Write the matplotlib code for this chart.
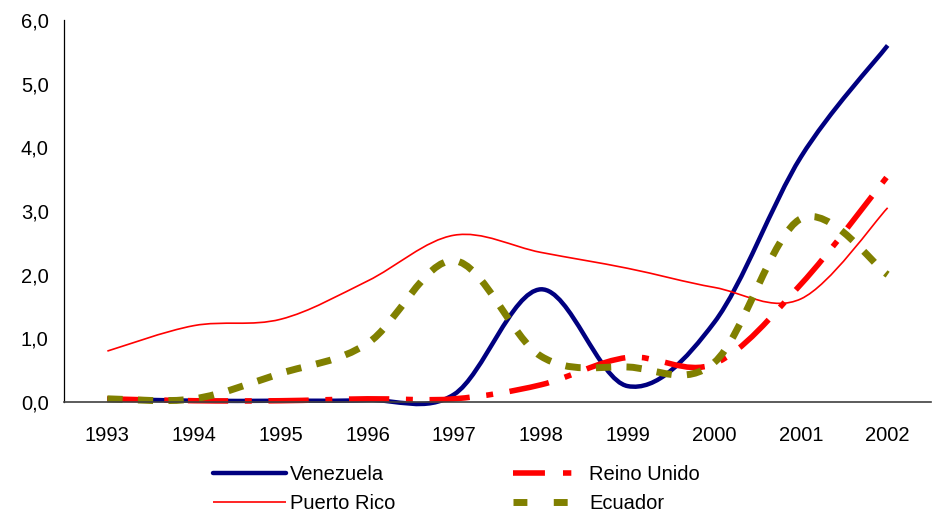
import matplotlib
matplotlib.use("Agg")
import numpy as np
import matplotlib.pyplot as plt
from matplotlib.path import Path
from matplotlib.patches import PathPatch
from matplotlib.lines import Line2D

plt.rcParams['font.family'] = ['Liberation Sans', 'DejaVu Sans']
plt.rcParams['lines.scale_dashes'] = False

# --- data ---
years = ["1993", "1994", "1995", "1996", "1997", "1998", "1999", "2000", "2001", "2002"]
venezuela = [0.05, 0.02, 0.02, 0.03, 0.12, 1.77, 0.25, 1.25, 3.85, 5.60]
reino_unido = [0.05, 0.02, 0.02, 0.05, 0.05, 0.27, 0.70, 0.60, 1.85, 3.55]
puerto_rico = [0.80, 1.20, 1.30, 1.90, 2.62, 2.35, 2.10, 1.80, 1.62, 3.05]
ecuador = [0.05, 0.05, 0.45, 0.92, 2.22, 0.72, 0.55, 0.62, 2.88, 2.00]

FS = 14.5


def smooth_path(xs, ys):
    # Excel-style smoothed line: cubic Bezier through every point
    pts = np.column_stack([xs, ys]).astype(float)
    n = len(pts)
    verts = [pts[0]]
    codes = [Path.MOVETO]
    for i in range(n - 1):
        p0 = pts[max(i - 1, 0)]
        p1 = pts[i]
        p2 = pts[i + 1]
        p3 = pts[min(i + 2, n - 1)]
        c1 = p1 + (p2 - p0) / 6.0
        c2 = p2 - (p3 - p1) / 6.0
        verts += [c1, c2, p2]
        codes += [Path.CURVE4] * 3
    return Path(verts, codes)


series = [
    ("Venezuela", venezuela, dict(color="#000080", lw=3.2, ls="-")),
    ("Reino Unido", reino_unido, dict(color="#FF0000", lw=4.0, ls=(0, (29, 12, 5, 12)))),
    ("Puerto Rico", puerto_rico, dict(color="#FF0000", lw=1.2, ls="-")),
    ("Ecuador", ecuador, dict(color="#808000", lw=5.0, ls=(0, (11, 11)))),
]
legend_styles = {
    "Reino Unido": (0, (23, 13, 6, 13)),
    "Ecuador": (0, (10, 19)),
}

fig = plt.figure(figsize=(9.32, 5.14), dpi=100)
ax = fig.add_axes([64 / 932, 1 - 402 / 514, (931 - 64) / 932, (402 - 20) / 514])

x = np.arange(len(years))
handles = {}
for name, vals, st in series:
    patch = PathPatch(smooth_path(x, vals), facecolor="none", edgecolor=st["color"],
                      linewidth=st["lw"], linestyle=st["ls"], capstyle="butt",
                      joinstyle="round", clip_on=False)
    ax.add_patch(patch)
    handles[name] = Line2D([], [], color=st["color"], lw=st["lw"],
                           ls=legend_styles.get(name, st["ls"]),
                           solid_capstyle="round" if name == "Venezuela" else "butt",
                           dash_capstyle="butt")

ax.set_xlim(-0.5, len(years) - 0.5)
ax.set_ylim(0, 6)
ax.set_xticks(x)
ax.set_xticklabels(years)
ax.set_yticks(np.arange(0, 7, 1))
ax.set_yticklabels([f"{v:.1f}".replace(".", ",") for v in np.arange(0, 7, 1)])
ax.tick_params(axis="both", length=0, labelsize=FS)
ax.tick_params(axis="y", pad=11)
ax.tick_params(axis="x", pad=17)
for s in ["top", "right"]:
    ax.spines[s].set_visible(False)
ax.spines["left"].set_color("black")
ax.spines["left"].set_linewidth(0.9)
ax.spines["bottom"].set_color("#404040")
ax.spines["bottom"].set_linewidth(1.2)

order = ["Venezuela", "Puerto Rico", "Reino Unido", "Ecuador"]
fig.legend([handles[k] for k in order], order, ncol=2, frameon=False,
           loc="upper left", bbox_to_anchor=(213 / 932, 1 - 465 / 514),
           borderaxespad=0, borderpad=0, fontsize=FS, handlelength=3.6,
           handletextpad=0.2, columnspacing=5.85, labelspacing=0.52)

fig.savefig("out.png", dpi=100)
